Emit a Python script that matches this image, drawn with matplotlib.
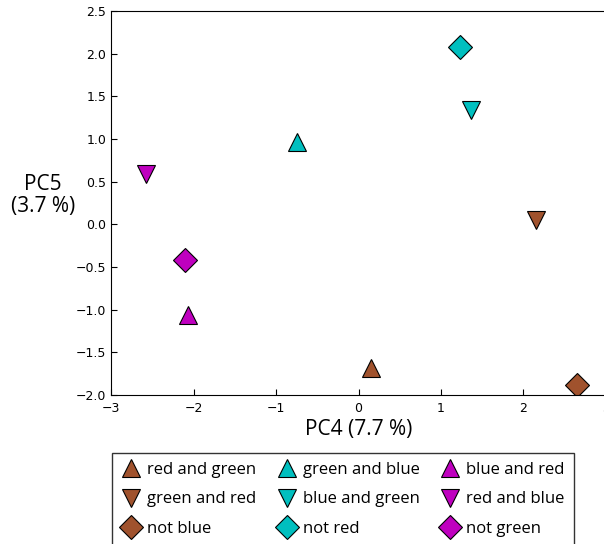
import matplotlib
matplotlib.use('Agg')
import matplotlib.pyplot as plt

plt.rcParams['font.family'] = 'DejaVu Sans'
label_font = 'Open Sans'

# PCA scores (PC4, PC5) per condition
labels = ['red and green', 'green and red', 'not blue',
          'green and blue', 'blue and green', 'not red',
          'blue and red', 'red and blue', 'not green']
pc4 = [0.15, 2.15, 2.65,
       -0.75, 1.36, 1.23,
       -2.07, -2.58, -2.10]
pc5 = [-1.68, 0.05, -1.88,
       0.96, 1.34, 2.08,
       -1.06, 0.59, -0.42]
markers = ['^', 'v', 'D'] * 3
colors = ['#A0522D'] * 3 + ['#00BFBF'] * 3 + ['#BF00BF'] * 3

fig = plt.figure(figsize=(6.04, 5.44), dpi=100)
ax = fig.add_axes([0.1838, 0.2739, 0.8195, 0.7059])

handles = []
for x, y, m, c, lab in zip(pc4, pc5, markers, colors, labels):
    ms = 12 if m == 'D' else 12.5
    h, = ax.plot(x, y, linestyle='none', marker=m, markersize=ms,
                 markerfacecolor=c, markeredgecolor='black', markeredgewidth=0.8,
                 label=lab)
    handles.append(h)

ax.set_xlim(-3, 3)
ax.set_ylim(-2.0, 2.5)
ax.set_xticks([-3, -2, -1, 0, 1, 2, 3])
ax.set_yticks([-2.0, -1.5, -1.0, -0.5, 0.0, 0.5, 1.0, 1.5, 2.0, 2.5])
ax.tick_params(direction='in', length=4, labelsize=9, top=False, right=False)
ax.tick_params(axis='x', pad=5)

ax.set_xlabel('PC4 (7.7 %)', fontsize=15, family=label_font, labelpad=3)
ax.set_ylabel('PC5\n(3.7 %)', fontsize=15, family=label_font, rotation=0,
              ha='center', va='center', linespacing=1.05)
ax.yaxis.set_label_coords(-0.137, 0.52)

leg = fig.legend(handles=handles, loc='upper left', ncol=3,
                 bbox_to_anchor=(0.1854, 0.1673), frameon=True, fancybox=False,
                 prop={'family': label_font, 'size': 12}, numpoints=1,
                 handletextpad=0.35, columnspacing=1.25, labelspacing=0.8,
                 borderpad=0.55, borderaxespad=0, handlelength=1.2)
leg.get_frame().set_edgecolor('black')
leg.get_frame().set_linewidth(1.0)

fig.savefig('out.png', dpi=100)
